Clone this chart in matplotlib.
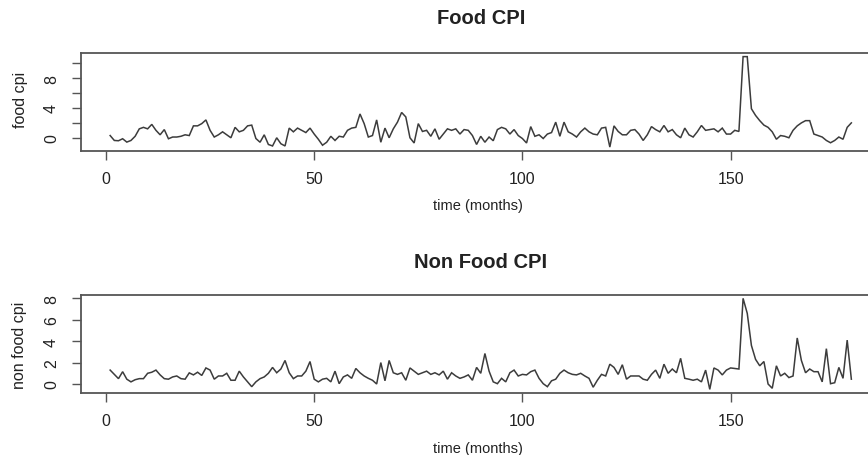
import matplotlib
matplotlib.use("Agg")
import matplotlib.pyplot as plt
import numpy as np

plt.rcParams['font.family'] = ['Liberation Sans', 'DejaVu Sans']

# ---- data (monthly values, months 1..179) ----
food_cpi = [
    0.3, -0.36, -0.4, -0.13, -0.58, -0.36, 0.2, 1.2, 1.4, 1.2,
    1.8, 1.0, 0.4, 1.1, -0.13, 0.1, 0.1, 0.2, 0.4, 0.3,
    1.6, 1.6, 1.9, 2.4, 1.0, 0.1, 0.4, 0.8, 0.4, 0.0,
    1.4, 0.8, 1.0, 1.6, 1.7, -0.1, -0.6, 0.4, -0.9, -1.1,
    0.0, -0.8, -1.1, 1.3, 0.8, 1.3, 1.0, 0.7, 1.3, 0.5,
    -0.2, -1.0, -0.6, 0.2, -0.36, 0.2, 0.1, 1.0, 1.3, 1.4,
    3.2, 1.9, 0.1, 0.3, 2.4, -0.6, 1.3, 0.0, 1.2, 2.1,
    3.4, 2.8, 0.0, -0.7, 1.9, 0.85, 1.0, 0.2, 1.2, -0.2,
    0.5, 1.2, 1.0, 1.2, 0.5, 1.1, 1.0, 0.3, -0.9, 0.2,
    -0.6, 0.1, -0.4, 1.1, 1.4, 1.2, 0.5, 1.1, 0.3, -0.1,
    -0.7, 1.5, 0.2, 0.4, -0.1, 0.5, 0.7, 2.1, 0.2, 2.1,
    0.8, 0.5, 0.1, 0.8, 1.3, 0.8, 0.5, 0.4, 1.3, 1.4,
    -1.25, 1.6, 0.85, 0.4, 0.4, 1.0, 1.1, 0.5, -0.36, 0.4,
    1.5, 1.1, 0.8, 1.65, 0.8, 1.1, 0.4, 0.0, 1.3, 0.4,
    0.1, 0.8, 1.65, 1.0, 1.1, 1.2, 0.8, 1.3, 0.5, 0.5,
    1.0, 0.85, 10.9, 10.9, 3.9, 3.0, 2.3, 1.7, 1.4, 0.8,
    -0.2, 0.3, 0.2, 0.0, 1.0, 1.6, 2.0, 2.3, 2.3, 0.5,
    0.3, 0.1, -0.36, -0.67, -0.36, 0.1, -0.2, 1.4, 2.0,
]

non_food_cpi = [
    1.3, 0.9, 0.5, 1.15, 0.45, 0.2, 0.4, 0.5, 0.5, 1.0,
    1.1, 1.3, 0.85, 0.5, 0.45, 0.66, 0.75, 0.5, 0.45, 1.04,
    0.85, 1.1, 0.8, 1.5, 1.3, 0.45, 0.75, 0.75, 1.0, 0.35,
    0.35, 1.2, 0.66, 0.2, -0.25, 0.2, 0.5, 0.66, 1.0, 1.55,
    1.05, 1.4, 2.2, 1.05, 0.5, 0.75, 0.75, 1.2, 2.1, 0.45,
    0.2, 0.45, 0.53, 0.2, 1.2, 0.03, 0.66, 0.85, 0.53, 1.45,
    1.05, 0.75, 0.53, 0.35, 0.0, 2.0, 0.3, 2.2, 1.05, 0.9,
    1.05, 0.35, 1.5, 1.2, 0.9, 1.05, 1.2, 0.9, 1.05, 0.85,
    1.2, 0.45, 1.05, 0.75, 0.53, 0.66, 0.85, 0.35, 1.55, 1.0,
    2.85, 1.2, 0.2, 0.03, 0.53, 0.2, 1.05, 1.3, 0.75, 0.9,
    0.85, 1.15, 1.3, 0.53, 0.03, -0.25, 0.3, 0.45, 1.0, 1.3,
    1.05, 0.9, 0.85, 1.0, 0.75, 0.53, -0.3, 0.35, 0.9, 0.75,
    1.85, 1.55, 0.9, 1.8, 0.45, 0.75, 0.75, 0.75, 0.45, 0.35,
    0.9, 1.3, 0.53, 1.85, 1.0, 1.4, 1.05, 2.4, 0.53, 0.45,
    0.35, 0.45, 0.2, 1.3, -0.5, 1.5, 1.3, 0.85, 1.3, 1.5,
    1.45, 1.4, 8.0, 6.6, 3.6, 2.3, 1.7, 2.1, 0.0, -0.4,
    1.7, 0.75, 1.0, 0.6, 0.75, 4.3, 2.2, 1.05, 1.4, 1.15,
    1.15, 0.2, 3.3, 0.03, 0.12, 1.55, 0.53, 4.1, 0.45,
]

months = list(range(1, len(food_cpi) + 1))

titles = ["Food CPI", "Non Food CPI"]
ylabels = ["food cpi", "non food cpi"]
xlabel = "time (months)"
xticks = [0, 50, 100, 150]
yticks_top = [0, 2, 4, 6, 8, 10]
ylabels_top = ["0", "", "4", "", "8", ""]
yticks_bot = [0, 2, 4, 6, 8]
ylabels_bot = ["0", "2", "4", "6", "8"]

# ---- layout (pixel based, R base-graphics look) ----
W, H = 868, 456
fig = plt.figure(figsize=(W / 100, H / 100), dpi=100)
fig.patch.set_facecolor("white")

LINE = "#3c3c3c"
BOX = "#555555"
TXT = "#222222"

def px_rect(left, top, right, bottom):
    return [left / W, 1 - bottom / H, (right - left) / W, (bottom - top) / H]

def r_range(vals):
    lo, hi = min(vals), max(vals)
    pad = 0.04 * (hi - lo)
    return lo - pad, hi + pad

panels = [
    dict(y=food_cpi, rect=(80.5, 54, 881, 151.7), title_y=18, xlab_y=206,
         ylab_y=100, yt=yticks_top, ytl=ylabels_top,
         title=titles[0], ylab=ylabels[0]),
    dict(y=non_food_cpi, rect=(80.5, 295.7, 881, 394), title_y=263, xlab_y=449,
         ylab_y=345, yt=yticks_bot, ytl=ylabels_bot,
         title=titles[1], ylab=ylabels[1]),
]

for p in panels:
    l, t, r, b = p["rect"]
    ax = fig.add_axes(px_rect(l, t, r, b))
    ax.plot(months, p["y"], color=LINE, lw=1.1, solid_joinstyle="miter")
    ax.set_xlim(*r_range(months))
    ax.set_ylim(*r_range(p["y"]))
    ax.set_xticks(xticks)
    ax.set_xticklabels([str(v) for v in xticks])
    ax.set_yticks(p["yt"])
    ax.set_yticklabels(p["ytl"], rotation=90, va="center")
    for s in ax.spines.values():
        s.set_color(BOX)
        s.set_linewidth(1.3)
    ax.tick_params(axis="both", direction="out", length=6.5, width=1.0,
                   color=BOX, labelcolor=TXT, labelsize=11.5)
    ax.tick_params(axis="x", pad=8)
    ax.tick_params(axis="y", pad=9)
    ax.set_facecolor("white")

    cx = (l + r) / 2
    fig.text(cx / W, 1 - p["title_y"] / H, p["title"], ha="center", va="center",
             fontsize=14.5, fontweight="bold", color=TXT)
    fig.text(478 / W, 1 - p["xlab_y"] / H, xlabel, ha="center", va="center",
             fontsize=10.5, color=TXT)
    fig.text(20 / W, 1 - p["ylab_y"] / H, p["ylab"], ha="center", va="center",
             rotation=90, fontsize=11.5, color=TXT)

fig.savefig("out.png", dpi=100, facecolor="white")
